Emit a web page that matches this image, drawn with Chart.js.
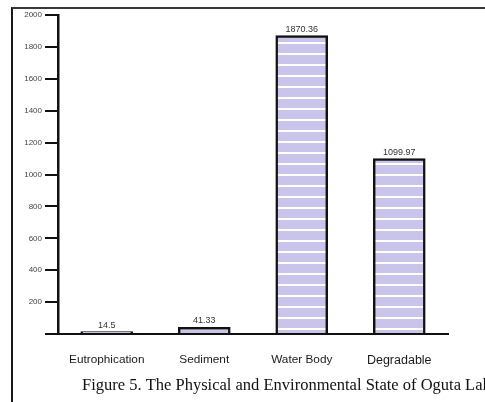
<!DOCTYPE html>
<html>
<head>
<meta charset="utf-8">
<script src="https://cdn.jsdelivr.net/npm/chart.js@4/dist/chart.umd.min.js"></script>
<style>
  html, body { margin: 0; padding: 0; background: #fff; }
  #wrap { position: relative; width: 485px; height: 402px; overflow: hidden; }
  #frame { position: absolute; left: 11px; top: 7px; width: 480px; height: 400px;
           border-left: 2px solid #1a1a1a; border-top: 2px solid #3a3a3a; }
  canvas { position: absolute; left: 0; top: 0; }
</style>
</head>
<body>
<div id="wrap">
  <div id="frame"></div>
  <canvas id="barChart" width="485" height="402"></canvas>
</div>
<script>
// data
const categories = ['Eutrophication', 'Sediment', 'Water Body', 'Degradable'];
const values = [14.5, 41.33, 1870.36, 1099.97];
const valueLabels = ['14.5', '41.33', '1870.36', '1099.97'];
const caption = 'Figure 5. The Physical and Environmental State of Oguta Lake';

// lavender fill with white horizontal stripes
function stripePattern() {
    const c = document.createElement('canvas');
    c.width = 8; c.height = 11;
    const g = c.getContext('2d');
    g.fillStyle = '#c9c4ea';
    g.fillRect(0, 0, 8, 11);
    g.fillStyle = '#ffffff';
    g.fillRect(0, 9, 8, 2);
    return document.getElementById('barChart').getContext('2d').createPattern(c, 'repeat');
}

// value labels above bars + figure caption
const labelsPlugin = {
    id: 'labelsPlugin',
    afterDraw(chart) {
        const ctx = chart.ctx;
        const meta = chart.getDatasetMeta(0);
        ctx.save();
        ctx.fillStyle = '#333';
        ctx.font = '9px "Liberation Sans", Arial, sans-serif';
        ctx.textAlign = 'center';
        ctx.textBaseline = 'bottom';
        meta.data.forEach((bar, i) => {
            ctx.fillText(valueLabels[i], bar.x, bar.y - 2);
        });
        ctx.font = '16.5px "Liberation Serif", "DejaVu Serif", serif';
        ctx.fillStyle = '#111';
        ctx.textAlign = 'left';
        ctx.textBaseline = 'middle';
        ctx.fillText(caption, 82, 386);
        ctx.restore();
    }
};

const barChart = new Chart(document.getElementById('barChart'), {
    type: 'bar',
    data: {
        labels: categories,
        datasets: [{
            data: values,
            backgroundColor: stripePattern(),
            borderColor: '#111',
            borderWidth: 2.5,
            borderSkipped: 'bottom',
            barThickness: 52,
        }]
    },
    options: {
        responsive: false,
        animation: false,
        devicePixelRatio: 1,
        layout: { padding: { top: 15, right: 37, bottom: 26, left: 0 } },
        plugins: {
            legend: { display: false },
            tooltip: { enabled: false }
        },
        scales: {
            x: {
                grid: { display: false },
                border: { display: true, color: '#111', width: 2 },
                ticks: {
                    padding: 11,
                    color: '#1a1a1a',
                    maxRotation: 0,
                    font: (c) => ({
                        family: '"Liberation Sans", Arial, sans-serif',
                        size: c.index === 3 ? 12.5 : 11.8
                    })
                },
                afterFit: (s) => { s.height = 42; }
            },
            y: {
                min: 0,
                max: 2000,
                grid: { drawOnChartArea: false, color: '#111', lineWidth: 2, tickLength: 13 },
                border: { display: true, color: '#111', width: 2.5 },
                ticks: {
                    stepSize: 200,
                    padding: 3,
                    color: '#444',
                    font: { family: '"Liberation Sans", Arial, sans-serif', size: 8 },
                    callback: (v) => v === 0 ? '' : v
                },
                afterFit: (s) => { s.width = 58; }
            }
        }
    },
    plugins: [labelsPlugin]
});
</script>
</body>
</html>
